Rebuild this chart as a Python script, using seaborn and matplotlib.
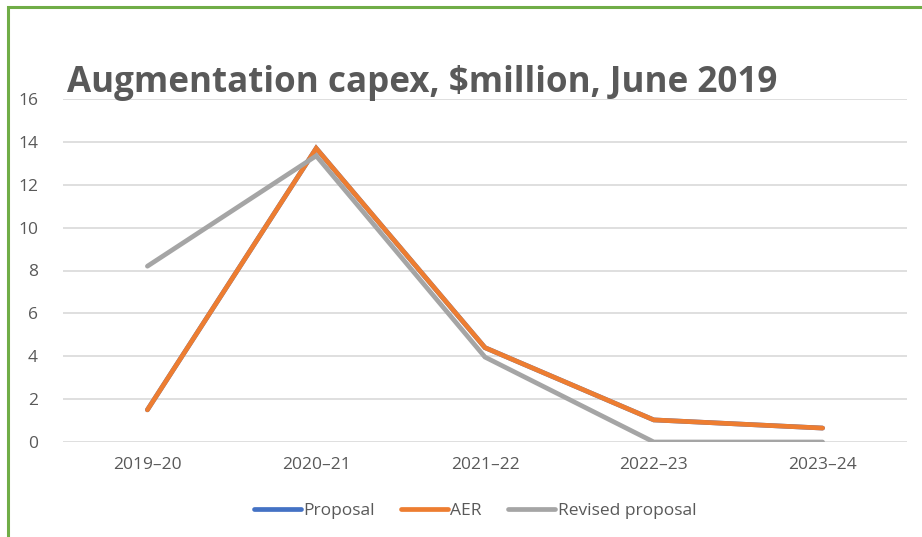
import matplotlib
matplotlib.use("Agg")
import matplotlib.pyplot as plt
import seaborn as sns
import pandas as pd
from matplotlib.patches import Rectangle
from matplotlib.lines import Line2D

years = ["2019–20", "2020–21", "2021–22", "2022–23", "2023–24"]
proposal = [1.5, 13.7, 4.4, 1.03, 0.65]
aer = [1.5, 13.7, 4.4, 1.03, 0.65]
revised = [8.2, 13.35, 3.96, 0.0, 0.0]
series_names = ["Proposal", "AER", "Revised proposal"]
colors = ["#4472C4", "#ED7D31", "#A5A5A5"]
yticks = [0, 2, 4, 6, 8, 10, 12, 14, 16]

rows = []
for name, vals in zip(series_names, [proposal, aer, revised]):
    for i, (yr, v) in enumerate(zip(years, vals)):
        rows.append({"idx": i, "year": yr, "value": v, "series": name})
df = pd.DataFrame(rows)

sns.set_theme(style="white")
plt.rcParams["font.family"] = ["Open Sans", "DejaVu Sans"]

fig = plt.figure(figsize=(9.22, 5.37), dpi=100)
ax = fig.add_axes([63/922, 1-442/537, (907-63)/922, (442-99)/537])

sns.lineplot(data=df, x="idx", y="value", hue="series", hue_order=series_names,
             palette=colors, linewidth=3.4, ax=ax, legend=False, sort=False,
             solid_capstyle="round", solid_joinstyle="miter")

ax.set_xlim(-0.5, 4.5)
ax.set_ylim(0, 16)
ax.set_yticks(yticks)
ax.set_yticklabels([str(t) for t in yticks])
ax.set_xticks(range(len(years)))
ax.set_xticklabels(years)
ax.set_xlabel("")
ax.set_ylabel("")
for s in ax.spines.values():
    s.set_visible(False)
ax.grid(axis="y", color="#D9D9D9", linewidth=1.2)
ax.set_axisbelow(True)
ax.tick_params(axis="both", length=0, labelsize=12.5, labelcolor="#595959")
ax.tick_params(axis="y", pad=18)
ax.tick_params(axis="x", pad=11)

fig.text(67/922, 1-92/537, "Augmentation capex, $million, June 2019",
         fontsize=25.2, fontweight="bold", color="#595959", ha="left", va="baseline")

handles = [Line2D([0], [0], color=c, lw=3.4, solid_capstyle="round") for c in colors]
fig.legend(handles, series_names, loc="center", bbox_to_anchor=(475/922, 1-511/537),
           ncol=3, frameon=False, fontsize=12.5, labelcolor="#595959",
           handlelength=2.7, handletextpad=0.15, columnspacing=1.5)

fig.add_artist(Rectangle((8/922, -0.1), 1.2, 1.1 - 7/537, transform=fig.transFigure,
                         fill=False, edgecolor="#70AD47", linewidth=2.2))

fig.savefig("out.png", dpi=100)
